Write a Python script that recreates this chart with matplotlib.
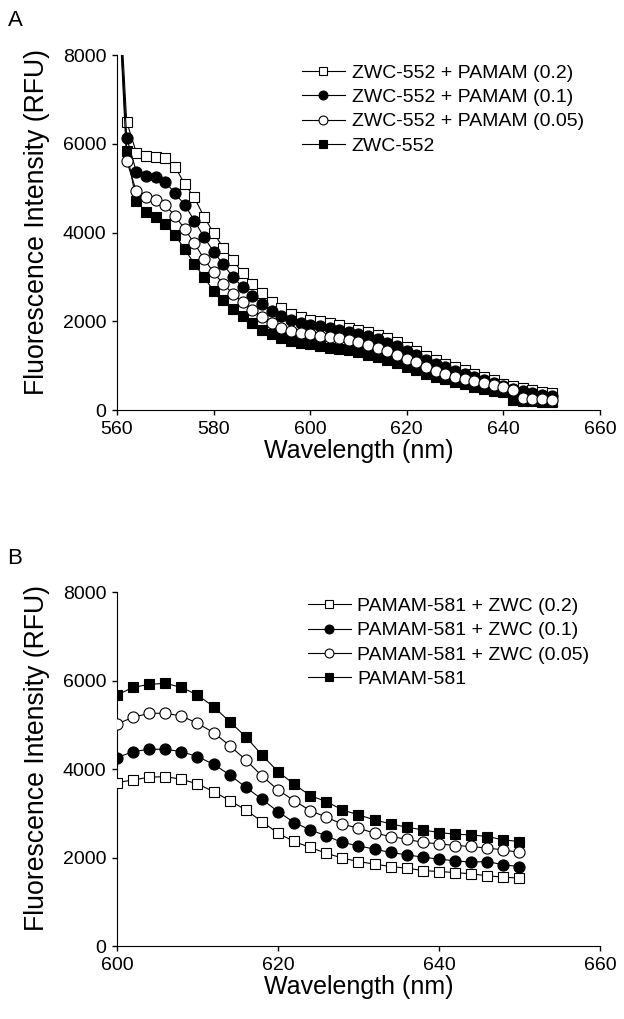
import matplotlib
matplotlib.use("Agg")
import matplotlib.pyplot as plt
import numpy as np

plt.rcParams['font.family'] = ['Liberation Sans', 'DejaVu Sans']

# ---- panel A data (560-650 nm, step 2) ----
wl_a = list(range(560, 652, 2))

zwc_pamam_02 = [10500, 6500, 5800, 5720, 5700, 5680, 5480, 5100, 4790, 4360,
                3990, 3660, 3390, 3080, 2840, 2630, 2440, 2290, 2170, 2090,
                2040, 2000, 1970, 1920, 1860, 1810, 1760, 1700, 1620, 1535,
                1410, 1325, 1220, 1120, 1045, 970, 895, 820, 745, 670,
                595, 550, 500, 455, 415, 375]
zwc_pamam_01 = [10200, 6140, 5370, 5280, 5260, 5150, 4880, 4630, 4270, 3900,
                3570, 3280, 3000, 2770, 2580, 2400, 2240, 2120, 2020, 1960,
                1920, 1890, 1855, 1810, 1755, 1710, 1660, 1600, 1520, 1440,
                1320, 1230, 1130, 1030, 960, 890, 820, 750, 680, 610,
                540, 480, 420, 385, 350, 320]
zwc_pamam_005 = [10000, 5620, 4930, 4810, 4730, 4610, 4380, 4080, 3760, 3410,
                 3100, 2840, 2620, 2430, 2260, 2100, 1960, 1860, 1785, 1735,
                 1705, 1665, 1640, 1625, 1585, 1530, 1470, 1400, 1320, 1245,
                 1160, 1075, 960, 872, 813, 752, 700, 662, 602, 571,
                 511, 451, 271, 248, 248, 226]
zwc_only = [10100, 5840, 4710, 4457, 4345, 4195, 3948, 3625, 3300, 2990,
            2690, 2472, 2285, 2112, 1962, 1813, 1723, 1633, 1558, 1521,
            1483, 1446, 1408, 1386, 1348, 1300, 1250, 1190, 1120, 1050,
            980, 900, 820, 750, 690, 630, 580, 530, 480, 440,
            400, 230, 210, 200, 190, 180]

labels_a = ['ZWC-552 + PAMAM (0.2)', 'ZWC-552 + PAMAM (0.1)',
            'ZWC-552 + PAMAM (0.05)', 'ZWC-552']

# ---- panel B data (600-650 nm, step 2) ----
wl_b = list(range(600, 652, 2))

pamam_zwc_02 = [3693, 3754, 3815, 3829, 3769, 3664, 3490, 3287, 3077, 2813,
                2551, 2363, 2227, 2099, 1986, 1910, 1851, 1797, 1760, 1706,
                1684, 1661, 1632, 1587, 1557, 1535]
pamam_zwc_01 = [4258, 4393, 4447, 4447, 4393, 4280, 4108, 3867, 3589, 3318,
                3039, 2791, 2625, 2490, 2340, 2264, 2190, 2114, 2061, 2009,
                1964, 1926, 1896, 1910, 1835, 1797]
pamam_zwc_005 = [5018, 5169, 5260, 5260, 5199, 5034, 4823, 4529, 4206, 3845,
                 3528, 3287, 3061, 2912, 2754, 2663, 2551, 2475, 2415, 2340,
                 2310, 2272, 2250, 2212, 2174, 2114]
pamam_only = [5673, 5846, 5914, 5937, 5846, 5673, 5409, 5070, 4731, 4318,
              3942, 3657, 3400, 3265, 3077, 2964, 2851, 2761, 2686, 2625,
              2565, 2528, 2512, 2475, 2400, 2362]

labels_b = ['PAMAM-581 + ZWC (0.2)', 'PAMAM-581 + ZWC (0.1)',
            'PAMAM-581 + ZWC (0.05)', 'PAMAM-581']

# marker styles: open square, filled circle, open circle, filled square
styles = [('s', 'white', 3), ('o', 'black', 4), ('o', 'white', 5), ('s', 'black', 2)]


def panel(ax, x, series, labels, xlim, xticks, anchor):
    for y, lab, (m, fc, z) in zip(series, labels, styles):
        ms = 7.2 if m == 's' else 8
        ax.plot(x, y, color='black', lw=0.8, marker=m, ms=ms, mfc=fc,
                mec='black', mew=0.8, label=lab, zorder=z)
    ax.set_xlim(*xlim)
    ax.set_ylim(0, 8000)
    ax.set_xticks(xticks)
    ax.set_yticks(range(0, 8001, 2000))
    ax.spines['top'].set_visible(False)
    ax.spines['right'].set_visible(False)
    ax.tick_params(direction='out', length=3.6, width=1, labelsize=14, pad=4)
    ax.set_xlabel('Wavelength (nm)', fontsize=18, labelpad=1)
    ax.set_ylabel('Fluorescence Intensity (RFU)', fontsize=19.2)
    ax.yaxis.set_label_coords(-0.139, 0.53)
    ax.legend(loc='upper left', bbox_to_anchor=anchor, frameon=False,
              fontsize=14, borderpad=0, borderaxespad=0, handlelength=2.2,
              handletextpad=0.35, labelspacing=0.35, markerscale=0.8)


fig = plt.figure(figsize=(6.24, 10.19), dpi=100)
ax1 = fig.add_axes([0.1875, 0.5976, 0.774, 0.3484])
ax2 = fig.add_axes([0.1875, 0.0716, 0.774, 0.3474])

panel(ax1, wl_a, [zwc_pamam_02, zwc_pamam_01, zwc_pamam_005, zwc_only], labels_a,
      (560, 660), range(560, 661, 20), (0.383, 0.975))
panel(ax2, wl_b, [pamam_zwc_02, pamam_zwc_01, pamam_zwc_005, pamam_only], labels_b,
      (600, 660), range(600, 661, 20), (0.395, 0.985))

fig.text(0.012, 0.99, 'A', fontsize=16, va='top')
fig.text(0.012, 0.462, 'B', fontsize=16, va='top')

fig.savefig('out.png', dpi=100)
